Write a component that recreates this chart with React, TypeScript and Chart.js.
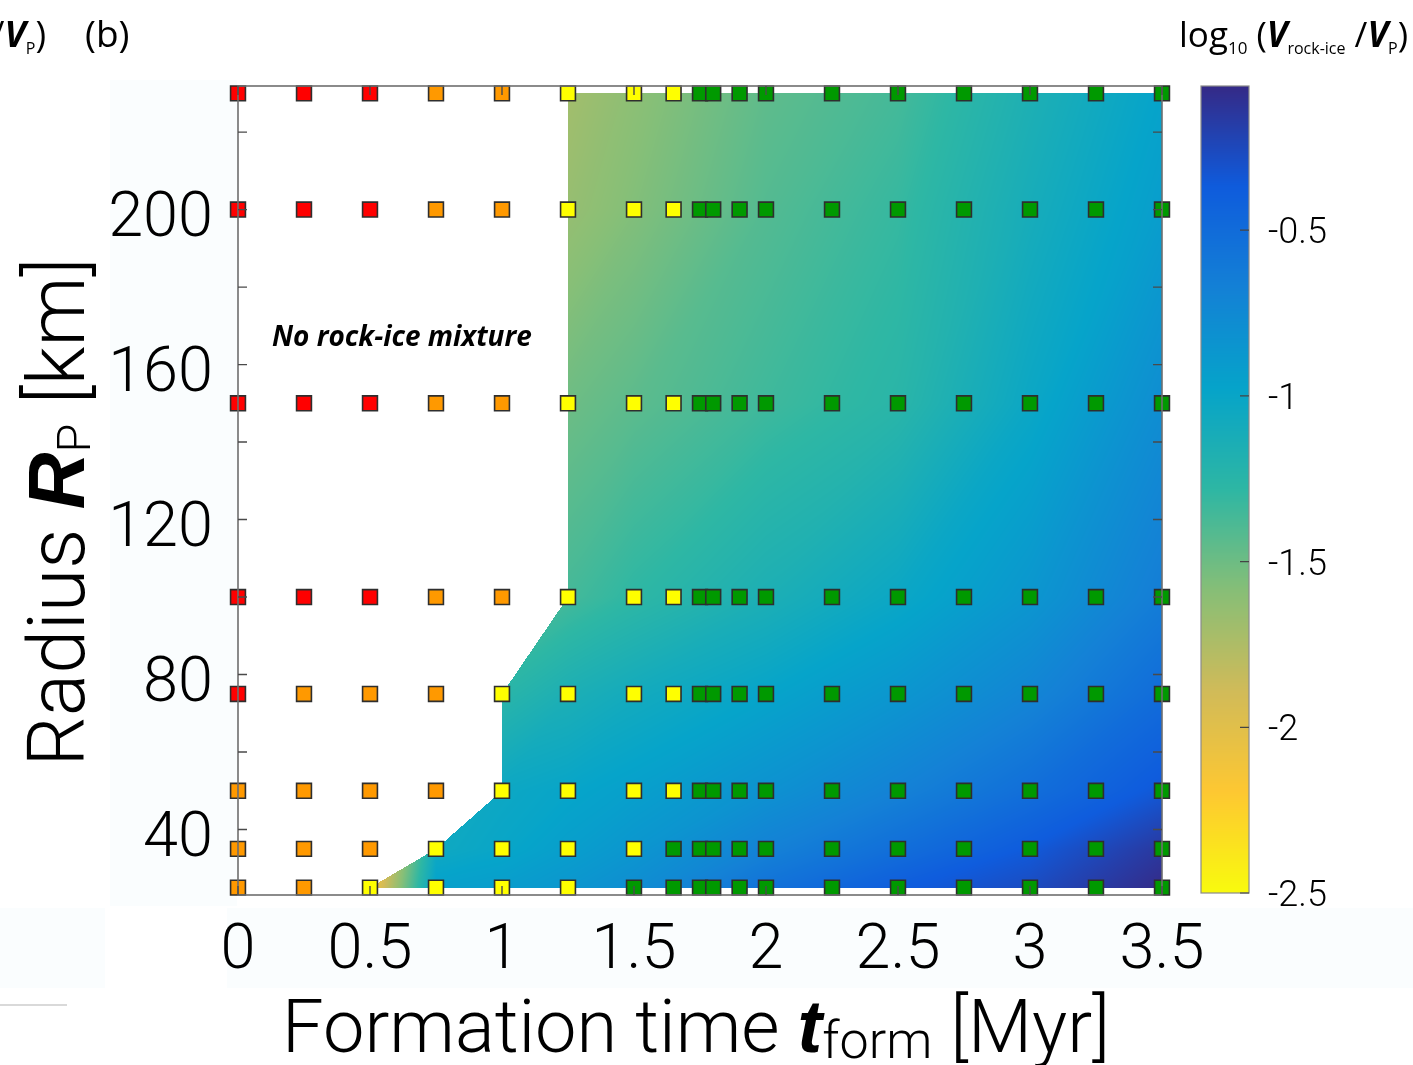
import React, { useEffect, useRef } from 'react';
import { Chart, registerables } from 'chart.js';

Chart.register(...registerables);

// ---------- data ----------
// Formation times of the simulated bodies [Myr]
const formationTimes = [0, 0.25, 0.5, 0.75, 1.0, 1.25, 1.5, 1.65, 1.75, 1.8, 1.9, 2.0, 2.25, 2.5, 2.75, 3.0, 3.25, 3.5];
// Radii of the simulated bodies [km], one marker row each (top to bottom)
const radiiKm = [230, 200, 150, 100, 75, 50, 35, 25];

// Marker class of every run, per radius row (R red, O orange, Y yellow, G green)
const classR230 = ['R', 'R', 'R', 'O', 'O', 'Y', 'Y', 'Y', 'G', 'G', 'G', 'G', 'G', 'G', 'G', 'G', 'G', 'G'];
const classR200 = ['R', 'R', 'R', 'O', 'O', 'Y', 'Y', 'Y', 'G', 'G', 'G', 'G', 'G', 'G', 'G', 'G', 'G', 'G'];
const classR150 = ['R', 'R', 'R', 'O', 'O', 'Y', 'Y', 'Y', 'G', 'G', 'G', 'G', 'G', 'G', 'G', 'G', 'G', 'G'];
const classR100 = ['R', 'R', 'R', 'O', 'O', 'Y', 'Y', 'Y', 'G', 'G', 'G', 'G', 'G', 'G', 'G', 'G', 'G', 'G'];
const classR75 = ['R', 'O', 'O', 'O', 'Y', 'Y', 'Y', 'Y', 'G', 'G', 'G', 'G', 'G', 'G', 'G', 'G', 'G', 'G'];
const classR50 = ['O', 'O', 'O', 'O', 'Y', 'Y', 'Y', 'Y', 'G', 'G', 'G', 'G', 'G', 'G', 'G', 'G', 'G', 'G'];
const classR35 = ['O', 'O', 'O', 'Y', 'Y', 'Y', 'Y', 'G', 'G', 'G', 'G', 'G', 'G', 'G', 'G', 'G', 'G', 'G'];
const classR25 = ['O', 'O', 'Y', 'Y', 'Y', 'Y', 'G', 'G', 'G', 'G', 'G', 'G', 'G', 'G', 'G', 'G', 'G', 'G'];
const classRows = [classR230, classR200, classR150, classR100, classR75, classR50, classR35, classR25];

const classCodes = ['R', 'O', 'Y', 'G'];
const classNames = ['Red runs', 'Orange runs', 'Yellow runs', 'Green runs'];
const classColors = ['#ff0000', '#ff9900', '#ffff00', '#009900'];

// log10(V_rock-ice / V_P) read at field nodes (null: no rock-ice mixture)
const fieldTimes = [0.5, 0.75, 1.0, 1.25, 1.5, 2.0, 2.5, 3.0, 3.5];
const fieldRadii = [25, 35, 50, 75, 100, 150, 200, 230];
const logVolR25 = [-2.15, -0.95, -0.92, -0.86, -0.78, -0.55, -0.38, -0.27, -0.07];
const logVolR35 = [null, -1.05, -1.0, -0.93, -0.86, -0.68, -0.52, -0.36, -0.15];
const logVolR50 = [null, null, -1.03, -0.99, -0.94, -0.82, -0.68, -0.52, -0.34];
const logVolR75 = [null, null, -1.25, -1.15, -1.08, -0.98, -0.86, -0.71, -0.5];
const logVolR100 = [null, null, null, -1.36, -1.28, -1.15, -1.02, -0.86, -0.64];
const logVolR150 = [null, null, null, -1.5, -1.44, -1.34, -1.25, -1.02, -0.78];
const logVolR200 = [null, null, null, -1.65, -1.57, -1.41, -1.31, -1.11, -0.92];
const logVolR230 = [null, null, null, -1.7, -1.61, -1.45, -1.36, -1.16, -0.97];
const fieldRows = [logVolR25, logVolR35, logVolR50, logVolR75, logVolR100, logVolR150, logVolR200, logVolR230];

// axes / colorbar
const xTickValues = [0, 0.5, 1, 1.5, 2, 2.5, 3, 3.5];
const xTickLabels = ['0', '0.5', '1', '1.5', '2', '2.5', '3', '3.5'];
const yTickMarks = [40, 60, 80, 100, 120, 140, 160, 180, 200, 220];
const yTickLabels = [40, 80, 120, 160, 200];
const cbMin = -2.5;
const cbMax = -0.065;
const cbTicks = [-0.5, -1, -1.5, -2, -2.5];
const cbTickLabels = ['-0.5', '-1', '-1.5', '-2', '-2.5'];

// parula colormap anchors
const parulaStops = [
  [53, 42, 135], [15, 92, 221], [20, 129, 214], [6, 164, 202], [46, 183, 164],
  [135, 191, 119], [209, 187, 89], [254, 200, 50], [249, 251, 14],
];

// ---------- helpers ----------
const LIGHT = 'Roboto, "Liberation Sans", sans-serif';
const HUMAN = '"Open Sans", "Liberation Sans", sans-serif';
const BOLDIT = '"Liberation Sans", Arial, sans-serif';

function parula(p: number): number[] {
  const q = Math.max(0, Math.min(1, p)) * (parulaStops.length - 1);
  const i = Math.min(parulaStops.length - 2, Math.floor(q));
  const f = q - i;
  const a = parulaStops[i];
  const b = parulaStops[i + 1];
  return [a[0] + (b[0] - a[0]) * f, a[1] + (b[1] - a[1]) * f, a[2] + (b[2] - a[2]) * f];
}

function colorOf(v: number): number[] {
  const u = (v - cbMin) / (cbMax - cbMin);
  return parula(1 - u);
}

function locate(arr: number[], v: number): number {
  if (v < arr[0] || v > arr[arr.length - 1]) return -1;
  for (let i = 0; i < arr.length - 1; i++) if (v <= arr[i + 1]) return i;
  return arr.length - 2;
}

function fieldValue(t: number, r: number): number | null {
  const i = locate(fieldTimes, t);
  const j = locate(fieldRadii, r);
  if (i < 0 || j < 0) return null;
  const a = (t - fieldTimes[i]) / (fieldTimes[i + 1] - fieldTimes[i]);
  const b = (r - fieldRadii[j]) / (fieldRadii[j + 1] - fieldRadii[j]);
  const BL = fieldRows[j][i];
  const BR = fieldRows[j][i + 1];
  const TL = fieldRows[j + 1][i];
  const TR = fieldRows[j + 1][i + 1];
  if (a >= b) {
    if (BL == null || BR == null || TR == null) return null;
    return BL + a * (BR - BL) + b * (TR - BR);
  }
  if (BL == null || TL == null || TR == null) return null;
  return BL + b * (TL - BL) + a * (TR - TL);
}

type Seg = { text: string; font: string; dy?: number };
function richWidth(ctx: CanvasRenderingContext2D, segs: Seg[]) {
  let w = 0;
  for (const s of segs) {
    ctx.font = s.font;
    w += ctx.measureText(s.text).width;
  }
  return w;
}
function drawRich(ctx: CanvasRenderingContext2D, segs: Seg[], x: number, y: number) {
  let cx = x;
  ctx.textAlign = 'left';
  ctx.textBaseline = 'alphabetic';
  for (const s of segs) {
    ctx.font = s.font;
    ctx.fillText(s.text, cx, y + (s.dy || 0));
    cx += ctx.measureText(s.text).width;
  }
}

// ---------- plugin ----------
const figurePlugin = {
  id: 'figurePlugin',
  beforeDraw(chart: any) {
    const ctx: CanvasRenderingContext2D = chart.ctx;
    ctx.save();
    ctx.fillStyle = '#ffffff';
    ctx.fillRect(0, 0, chart.width, chart.height);
    ctx.fillStyle = '#fafdfe';
    ctx.fillRect(110, 80, 127, 826);
    ctx.fillRect(0, 908, 105, 80);
    ctx.fillRect(227, 908, 1186, 80);
    ctx.strokeStyle = '#cccccc';
    ctx.lineWidth = 1.5;
    ctx.beginPath();
    ctx.moveTo(0, 1005);
    ctx.lineTo(67, 1005);
    ctx.stroke();
    ctx.restore();
  },
  beforeDatasetsDraw(chart: any) {
    const ctx: CanvasRenderingContext2D = chart.ctx;
    const xs = chart.scales.x;
    const ys = chart.scales.y;
    const area = chart.chartArea;
    const L = Math.floor(area.left);
    const T = Math.floor(area.top);
    const W = Math.ceil(area.right) - L;
    const H = Math.ceil(area.bottom) - T;
    const off = document.createElement('canvas');
    off.width = W;
    off.height = H;
    const octx = off.getContext('2d') as CanvasRenderingContext2D;
    const img = octx.createImageData(W, H);
    const tCol: number[] = [];
    for (let px = 0; px < W; px++) tCol.push(xs.getValueForPixel(L + px + 0.5));
    for (let py = 0; py < H; py++) {
      const r = ys.getValueForPixel(T + py + 0.5);
      for (let px = 0; px < W; px++) {
        const v = fieldValue(tCol[px], r);
        if (v == null) continue;
        const c = colorOf(v);
        const k = (py * W + px) * 4;
        img.data[k] = c[0];
        img.data[k + 1] = c[1];
        img.data[k + 2] = c[2];
        img.data[k + 3] = 255;
      }
    }
    octx.putImageData(img, 0, 0);
    ctx.drawImage(off, L, T);
  },
  afterDatasetsDraw(chart: any) {
    const ctx: CanvasRenderingContext2D = chart.ctx;
    const xs = chart.scales.x;
    const ys = chart.scales.y;
    const a = chart.chartArea;
    ctx.save();
    // axes box
    ctx.strokeStyle = '#6e6e6e';
    ctx.lineWidth = 1.6;
    ctx.strokeRect(a.left, a.top, a.right - a.left, a.bottom - a.top);
    // inward ticks
    ctx.strokeStyle = '#4a4a4a';
    ctx.lineWidth = 1.4;
    ctx.beginPath();
    for (const v of xTickValues) {
      const x = xs.getPixelForValue(v);
      ctx.moveTo(x, a.bottom);
      ctx.lineTo(x, a.bottom - 9);
      ctx.moveTo(x, a.top);
      ctx.lineTo(x, a.top + 9);
    }
    for (const v of yTickMarks) {
      const y = ys.getPixelForValue(v);
      ctx.moveTo(a.left, y);
      ctx.lineTo(a.left + 9, y);
      ctx.moveTo(a.right, y);
      ctx.lineTo(a.right - 9, y);
    }
    ctx.stroke();

    // tick labels
    ctx.fillStyle = '#000000';
    ctx.font = `300 63px ${LIGHT}`;
    ctx.textBaseline = 'alphabetic';
    ctx.textAlign = 'center';
    xTickValues.forEach((v, i) => {
      ctx.fillText(xTickLabels[i], xs.getPixelForValue(v), 968);
    });
    ctx.textAlign = 'right';
    for (const v of yTickLabels) {
      ctx.fillText(String(v), 213, ys.getPixelForValue(v) + 26);
    }

    // x title
    const xt: Seg[] = [
      { text: 'Formation time ', font: `300 74px ${LIGHT}` },
      { text: 't', font: `italic 700 74px ${BOLDIT}` },
      { text: 'form', font: `300 52px ${LIGHT}`, dy: 6 },
      { text: ' [Myr]', font: `300 74px ${LIGHT}` },
    ];
    const xw = richWidth(ctx, xt);
    drawRich(ctx, xt, 696 - xw / 2, 1052);

    // y title
    const yt: Seg[] = [
      { text: 'Radius ', font: `300 79px ${LIGHT}` },
      { text: 'R', font: `italic 700 79px ${BOLDIT}` },
      { text: 'P', font: `300 47px ${LIGHT}`, dy: 6 },
      { text: ' [km]', font: `300 79px ${LIGHT}` },
    ];
    const yw = richWidth(ctx, yt);
    ctx.save();
    ctx.translate(84, 512);
    ctx.rotate(-Math.PI / 2);
    drawRich(ctx, yt, -yw / 2, 0);
    ctx.restore();

    // annotation
    let fs = 28;
    ctx.font = `italic 700 ${fs}px ${HUMAN}`;
    fs = fs * 260 / ctx.measureText('No rock-ice mixture').width;
    ctx.font = `italic 700 ${fs}px ${HUMAN}`;
    ctx.textAlign = 'left';
    ctx.fillText('No rock-ice mixture', 272, 346);

    // colorbar
    const cbL = 1201, cbR = 1249, cbT = 86, cbB = 893;
    const cbY = (v: number) => cbB - (v - cbMin) / (cbMax - cbMin) * (cbB - cbT);
    for (let y = cbT; y < cbB; y++) {
      const v = cbMax - (y + 0.5 - cbT) / (cbB - cbT) * (cbMax - cbMin);
      const c = colorOf(v);
      ctx.fillStyle = `rgb(${c[0] | 0},${c[1] | 0},${c[2] | 0})`;
      ctx.fillRect(cbL, y, cbR - cbL, 1);
    }
    ctx.strokeStyle = '#8a8a8a';
    ctx.lineWidth = 1.2;
    ctx.strokeRect(cbL, cbT, cbR - cbL, cbB - cbT);
    ctx.strokeStyle = '#444444';
    ctx.beginPath();
    for (const v of cbTicks) {
      const y = cbY(v);
      ctx.moveTo(cbR - 9, y);
      ctx.lineTo(cbR, y);
    }
    ctx.stroke();
    ctx.fillStyle = '#000000';
    ctx.font = `300 36px ${LIGHT}`;
    ctx.textAlign = 'left';
    cbTicks.forEach((v, i) => {
      ctx.fillText(cbTickLabels[i], 1268, cbY(v) + 13);
    });

    // colorbar title
    const ct: Seg[] = [
      { text: 'log', font: `400 35px ${HUMAN}` },
      { text: '10', font: `400 17px ${HUMAN}`, dy: 7 },
      { text: ' (', font: `400 35px ${HUMAN}` },
      { text: 'V', font: `italic 700 35px ${HUMAN}` },
      { text: 'rock-ice', font: `400 16px ${HUMAN}`, dy: 7 },
      { text: ' /', font: `400 35px ${HUMAN}` },
      { text: 'V', font: `italic 700 35px ${HUMAN}` },
      { text: 'P', font: `400 16px ${HUMAN}`, dy: 7 },
      { text: ')', font: `400 35px ${HUMAN}` },
    ];
    const cw = richWidth(ctx, ct);
    drawRich(ctx, ct, 1408 - cw, 47);

    // top-left fragments
    const tl: Seg[] = [
      { text: ' /', font: `400 36px ${HUMAN}` },
      { text: 'V', font: `italic 700 36px ${HUMAN}` },
      { text: 'P', font: `400 16px ${HUMAN}`, dy: 7 },
      { text: ')', font: `400 36px ${HUMAN}` },
    ];
    const tw = richWidth(ctx, tl);
    drawRich(ctx, tl, 46 - tw, 47);
    ctx.font = `400 37px ${HUMAN}`;
    ctx.fillText('(b)', 85, 47);
    ctx.restore();
  },
};

export default function App() {
  const ref = useRef<HTMLCanvasElement | null>(null);
  useEffect(() => {
    const canvas = ref.current;
    if (!canvas) return;
    const datasets = classCodes.map((code, ci) => {
      const pts: { x: number; y: number }[] = [];
      classRows.forEach((row, ri) => {
        row.forEach((c, ti) => {
          if (c === code) pts.push({ x: formationTimes[ti], y: radiiKm[ri] });
        });
      });
      return {
        label: classNames[ci],
        data: pts,
        backgroundColor: classColors[ci],
        borderColor: '#2e2e2e',
        borderWidth: 1.6,
        pointStyle: 'rect',
        pointRadius: 10.5,
        pointHoverRadius: 10.5,
        clip: false,
      };
    });
    const chart = new Chart(canvas, {
      type: 'scatter',
      data: { datasets } as any,
      options: {
        animation: false,
        responsive: false,
        devicePixelRatio: 1,
        events: [],
        layout: { padding: { left: 238, top: 86, right: 251, bottom: 170 } },
        scales: {
          x: { type: 'linear', min: 0, max: 3.5, display: false },
          y: { type: 'linear', min: 23.1, max: 231.9, display: false },
        },
        plugins: { legend: { display: false }, tooltip: { enabled: false } },
      } as any,
      plugins: [figurePlugin as any],
    });
    return () => chart.destroy();
  }, []);
  return (
    <div style={{ position: 'fixed', left: 0, top: 0, width: 1413, height: 1065, background: '#fff' }}>
      <canvas ref={ref} width={1413} height={1065} style={{ display: 'block', width: 1413, height: 1065 }} />
    </div>
  );
}
